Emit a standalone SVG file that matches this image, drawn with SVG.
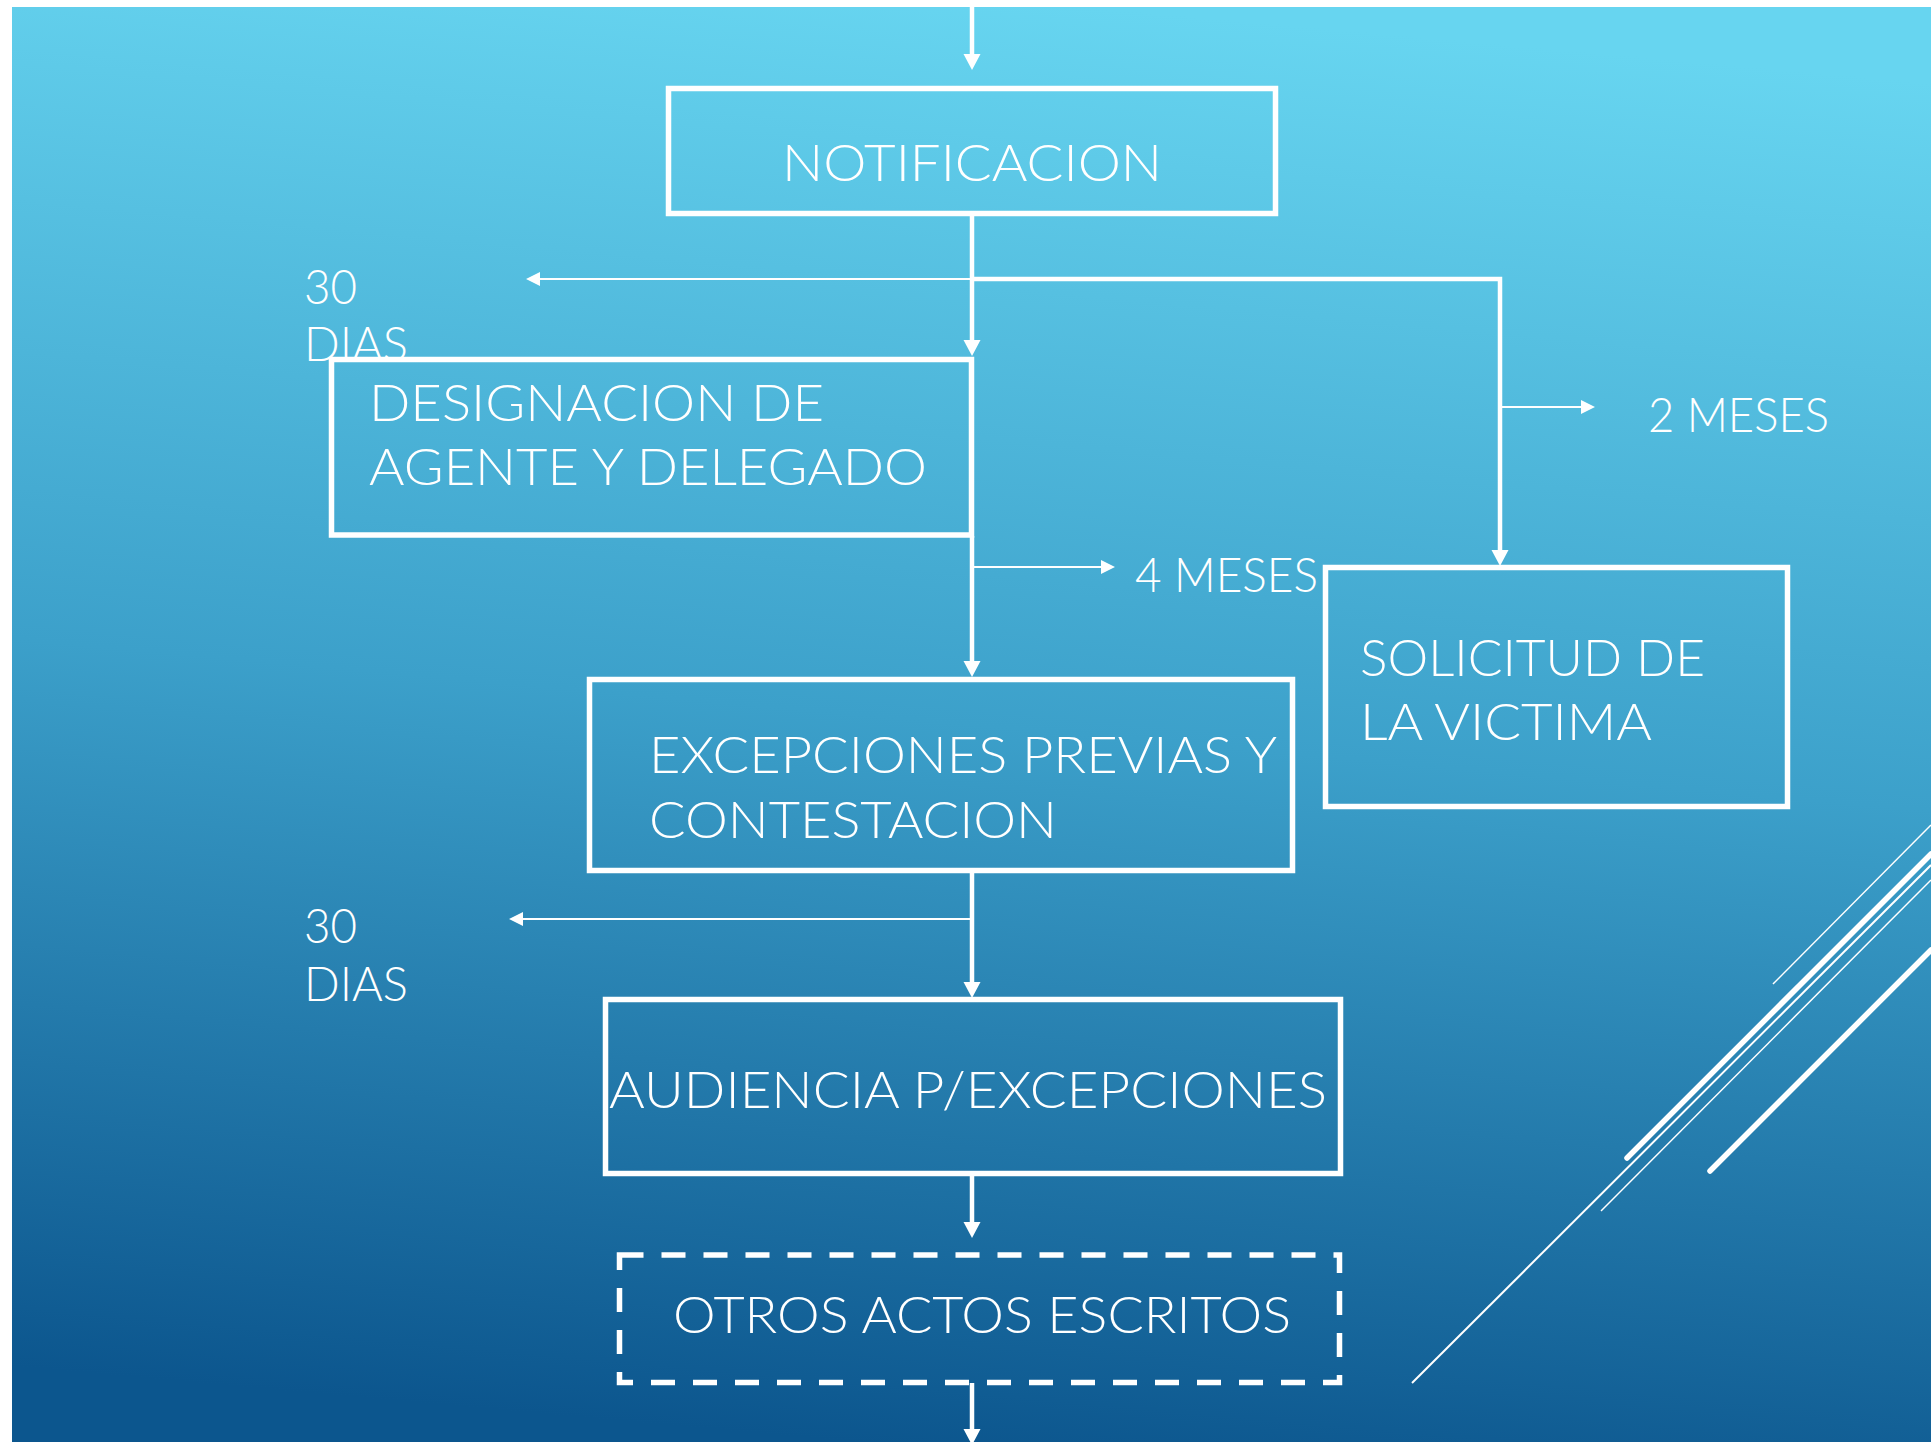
<svg xmlns="http://www.w3.org/2000/svg" width="1931" height="1442" viewBox="0 0 1931 1442">
  <defs>
    <linearGradient id="bg" x1="0.56" y1="0" x2="0.44" y2="1">
      <stop offset="0" stop-color="#67D5F0"/>
      <stop offset="0.5" stop-color="#3CA0CA"/>
      <stop offset="1" stop-color="#0C568E"/>
    </linearGradient>
    <marker id="ah" markerUnits="userSpaceOnUse" markerWidth="18" markerHeight="18" refX="0" refY="8.5" orient="auto" viewBox="0 0 18 18">
      <path d="M0,0 L16,8.5 L0,17 Z" fill="#FFFFFF"/>
    </marker>
    <marker id="ahs" markerUnits="userSpaceOnUse" markerWidth="16" markerHeight="16" refX="0" refY="7" orient="auto" viewBox="0 0 16 16">
      <path d="M0,0 L14,7 L0,14 Z" fill="#FFFFFF"/>
    </marker>
  </defs>
  <style>
    .box { fill: none; stroke: #FFFFFF; stroke-width: 5.5; }
    .dash { fill: none; stroke: #FFFFFF; stroke-width: 5.5; stroke-dasharray: 24 18; }
    .main { fill: none; stroke: #FFFFFF; stroke-width: 4.5; marker-end: url(#ah); }
    .thin { fill: none; stroke: #FFFFFF; stroke-width: 2; marker-end: url(#ahs); }
    .t { font-family: "Lato", "Liberation Sans", "DejaVu Sans", sans-serif; font-weight: 300; fill: #FFFFFF; font-size: 52px; }
    .l { font-family: "Lato", "Liberation Sans", "DejaVu Sans", sans-serif; font-weight: 300; fill: #FFFFFF; font-size: 48px; }
    .deco { stroke: #FFFFFF; fill: none; }
  </style>

  <rect x="0" y="0" width="1931" height="1442" fill="#FFFFFF"/>
  <rect x="12" y="7" width="1919" height="1435" fill="url(#bg)"/>

  <g id="decoration" class="deco">
    <line x1="1773" y1="984" x2="1931" y2="825" stroke-width="1.5"/>
    <line x1="1627" y1="1158" x2="1931" y2="854" stroke-width="5.5" stroke-linecap="round"/>
    <line x1="1412" y1="1383" x2="1931" y2="865" stroke-width="2"/>
    <line x1="1601" y1="1211" x2="1931" y2="880" stroke-width="1.5"/>
    <line x1="1710" y1="1171" x2="1931" y2="950" stroke-width="5.5" stroke-linecap="round"/>
  </g>

  <g id="connectors">
    <line class="main" x1="972" y1="7" x2="972" y2="54"/>
    <line class="main" x1="972" y1="215" x2="972" y2="340"/>
    <line class="thin" x1="972" y1="279" x2="540" y2="279"/>
    <path class="main" d="M972,279 H1500 V550"/>
    <line class="thin" x1="1500" y1="407" x2="1581" y2="407"/>
    <line class="main" x1="972" y1="536" x2="972" y2="661"/>
    <line class="thin" x1="972" y1="567" x2="1101" y2="567"/>
    <line class="main" x1="972" y1="872" x2="972" y2="982"/>
    <line class="thin" x1="972" y1="919" x2="523" y2="919"/>
    <line class="main" x1="972" y1="1176" x2="972" y2="1222"/>
    <line class="main" x1="972" y1="1383" x2="972" y2="1429"/>
  </g>

  <g id="label-30dias-1">
    <text class="l" x="304" y="304" textLength="53" lengthAdjust="spacingAndGlyphs">30</text>
    <text class="l" x="304" y="361" textLength="104" lengthAdjust="spacingAndGlyphs">DIAS</text>
  </g>
  <g id="label-2meses">
    <text class="l" x="1648" y="432" textLength="181" lengthAdjust="spacingAndGlyphs">2 MESES</text>
  </g>
  <g id="label-4meses">
    <text class="l" x="1135" y="592" textLength="183" lengthAdjust="spacingAndGlyphs">4 MESES</text>
  </g>
  <g id="label-30dias-2">
    <text class="l" x="304" y="943" textLength="53" lengthAdjust="spacingAndGlyphs">30</text>
    <text class="l" x="304" y="1001" textLength="104" lengthAdjust="spacingAndGlyphs">DIAS</text>
  </g>

  <g id="node-notificacion">
    <rect class="box" x="668.5" y="88.5" width="607" height="125"/>
    <text class="t" x="782" y="181" textLength="380" lengthAdjust="spacingAndGlyphs">NOTIFICACION</text>
  </g>

  <g id="node-designacion">
    <rect class="box" x="331.5" y="359.5" width="640" height="175.5"/>
    <text class="t" x="369" y="421" textLength="455" lengthAdjust="spacingAndGlyphs">DESIGNACION DE</text>
    <text class="t" x="369" y="485" textLength="558" lengthAdjust="spacingAndGlyphs">AGENTE Y DELEGADO</text>
  </g>

  <g id="node-solicitud">
    <rect class="box" x="1325.5" y="567.5" width="462" height="239"/>
    <text class="t" x="1360" y="676" textLength="345" lengthAdjust="spacingAndGlyphs">SOLICITUD DE</text>
    <text class="t" x="1360" y="740" textLength="292" lengthAdjust="spacingAndGlyphs">LA VICTIMA</text>
  </g>

  <g id="node-excepciones">
    <rect class="box" x="589.5" y="679.5" width="703" height="191"/>
    <text class="t" x="649" y="773" textLength="628" lengthAdjust="spacingAndGlyphs">EXCEPCIONES PREVIAS Y</text>
    <text class="t" x="649" y="838" textLength="408" lengthAdjust="spacingAndGlyphs">CONTESTACION</text>
  </g>

  <g id="node-audiencia">
    <rect class="box" x="605.5" y="999.5" width="735" height="174"/>
    <text class="t" x="609" y="1108" textLength="718" lengthAdjust="spacingAndGlyphs">AUDIENCIA P/EXCEPCIONES</text>
  </g>

  <g id="node-otros">
    <rect class="dash" x="619.5" y="1255" width="720" height="127.5"/>
    <text class="t" x="673" y="1333" textLength="618" lengthAdjust="spacingAndGlyphs">OTROS ACTOS ESCRITOS</text>
  </g>
</svg>
